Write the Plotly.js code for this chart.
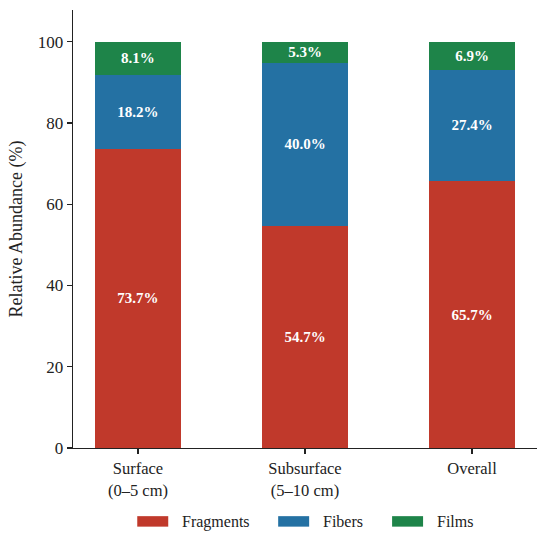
<!DOCTYPE html>
<html>
<head>
<meta charset="utf-8">
<script src="https://cdn.plot.ly/plotly-3.0.1.min.js"></script>
<style>html,body{margin:0;padding:0;background:#fff;}#chart{width:550px;height:541px;}</style>
</head>
<body>
<div id="chart"></div>
<script>
const categories = ['Surface<br>(0–5 cm)', 'Subsurface<br>(5–10 cm)', 'Overall'];
const seriesNames = ['Fragments', 'Fibers', 'Films'];
const fragments = [73.7, 54.7, 65.7];
const fibers = [18.2, 40.0, 27.4];
const films = [8.1, 5.3, 6.9];
const yTicks = [0, 20, 40, 60, 80, 100];

const colors = ['#c0392b', '#2471a3', '#1e8449'];
const seriesValues = [fragments, fibers, films];
const FONT = 'Liberation Serif, Times New Roman, serif';

const traces = seriesValues.map((vals, i) => ({
  type: 'bar',
  name: seriesNames[i],
  x: [0, 1, 2],
  y: vals,
  width: 0.52,
  marker: {color: colors[i], line: {width: 0}},
  text: vals.map(v => v.toFixed(1) + '%'),
  textposition: 'inside',
  insidetextanchor: 'middle',
  textangle: 0,
  constraintext: 'none',
  textfont: {family: FONT, size: 15, color: '#ffffff', weight: 'bold'},
  hoverinfo: 'skip',
  showlegend: false
}));

// custom legend (wide patches like the reference)
const L = 72.7, R = 537, T = 10, B = 448.3;
const px = x => (x - L) / (R - L);
const py = y => (B - y) / (B - T);
const legendPatchX = [137, 278, 392];
const shapes = [];
const annotations = [];
seriesNames.forEach((n, i) => {
  shapes.push({type: 'rect', xref: 'paper', yref: 'paper',
    x0: px(legendPatchX[i]), x1: px(legendPatchX[i] + 31),
    y0: py(527), y1: py(516.5),
    fillcolor: colors[i], line: {width: 0}});
  annotations.push({xref: 'paper', yref: 'paper', x: px(legendPatchX[i] + 43), y: py(522),
    xanchor: 'left', yanchor: 'middle', showarrow: false, text: n,
    font: {family: FONT, size: 16, color: '#222'}});
});

const layout = {
  width: 550, height: 541,
  margin: {l: L, r: 550 - R, t: T, b: 541 - B, pad: 0},
  paper_bgcolor: '#fff', plot_bgcolor: '#fff',
  barmode: 'stack',
  bargap: 0,
  font: {family: FONT, size: 16, color: '#222'},
  xaxis: {
    range: [-0.389, 2.389],
    tickvals: [0, 1, 2], ticktext: categories,
    showgrid: false, zeroline: false,
    showline: true, linecolor: '#222', linewidth: 1.3,
    ticks: 'outside', ticklen: 5, tickwidth: 1.3, tickcolor: '#222',
    tickfont: {family: FONT, size: 16.5, color: '#222'}
  },
  yaxis: {
    range: [0, 107.8],
    tickvals: yTicks,
    showgrid: false, zeroline: false,
    showline: true, linecolor: '#222', linewidth: 1.3,
    ticks: 'outside', ticklen: 5, tickwidth: 1.3, tickcolor: '#222',
    tickfont: {family: FONT, size: 17, color: '#222'},
    title: {text: 'Relative Abundance (%)', font: {family: FONT, size: 18, color: '#222'}, standoff: 10}
  },
  shapes: shapes,
  annotations: annotations,
  showlegend: false
};

Plotly.newPlot('chart', traces, layout, {displayModeBar: false, staticPlot: true});
</script>
</body>
</html>
